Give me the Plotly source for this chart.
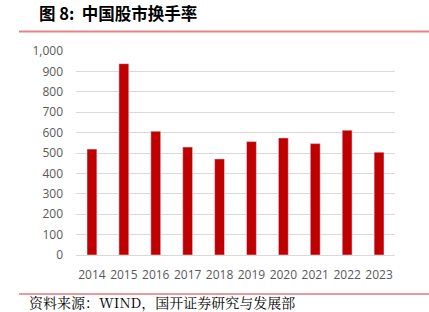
import plotly.graph_objects as go

years = ["2014", "2015", "2016", "2017", "2018", "2019", "2020", "2021", "2022", "2023"]
turnover = [519, 938, 607, 529, 471, 556, 574, 546, 612, 504]
y_ticks = [0, 100, 200, 300, 400, 500, 600, 700, 800, 900, 1000]
y_tick_labels = ["0", "100", "200", "300", "400", "500", "600", "700", "800", "900", "1,000"]

W, H = 429, 312
L, R, T, B = 76, 34, 51, 57
pw = W - L - R
ph = H - T - B

def px(x):
    return (x - L) / pw

def py(y):
    return 1 - (y - T) / ph

fig = go.Figure()
fig.add_trace(go.Bar(x=years, y=turnover, marker_color="#C00000", width=0.31))

fig.update_layout(
    width=W, height=H,
    margin=dict(l=L, r=R, t=T, b=B),
    paper_bgcolor="white", plot_bgcolor="white",
    showlegend=False,
    font=dict(family="Open Sans", size=12, color="#595959"),
    xaxis=dict(type="category", showgrid=False, showline=False, ticks="",
               tickfont=dict(size=12, color="#595959"), ticklabelstandoff=11),
    yaxis=dict(range=[0, 1000], tickvals=y_ticks, ticktext=y_tick_labels,
               showgrid=True, gridcolor="#d9d9d9", gridwidth=1,
               zeroline=True, zerolinecolor="#d9d9d9", zerolinewidth=1,
               showline=False, ticks="", ticklabelstandoff=12,
               tickfont=dict(size=12, color="#595959")),
    shapes=[
        dict(type="line", xref="paper", yref="paper", x0=px(19), x1=px(429), y0=py(31.5), y1=py(31.5),
             line=dict(color="#e8838a", width=2)),
        dict(type="line", xref="paper", yref="paper", x0=px(19), x1=px(429), y0=py(294), y1=py(294),
             line=dict(color="#d9343e", width=1)),
    ],
    annotations=[
        dict(text="<b>图 8:  中国股市换手率</b>", xref="paper", yref="paper", x=px(37), y=py(13),
             xanchor="left", yanchor="middle", showarrow=False,
             font=dict(family="Noto Sans CJK SC", size=16.5, color="#000000")),
        dict(text="资料来源：WIND，国开证券研究与发展部", xref="paper", yref="paper", x=px(27), y=py(302),
             xanchor="left", yanchor="middle", showarrow=False,
             font=dict(family="Noto Serif CJK SC, Noto Sans CJK SC", size=14, color="#000000")),
    ],
)

fig.write_html("out.html")
